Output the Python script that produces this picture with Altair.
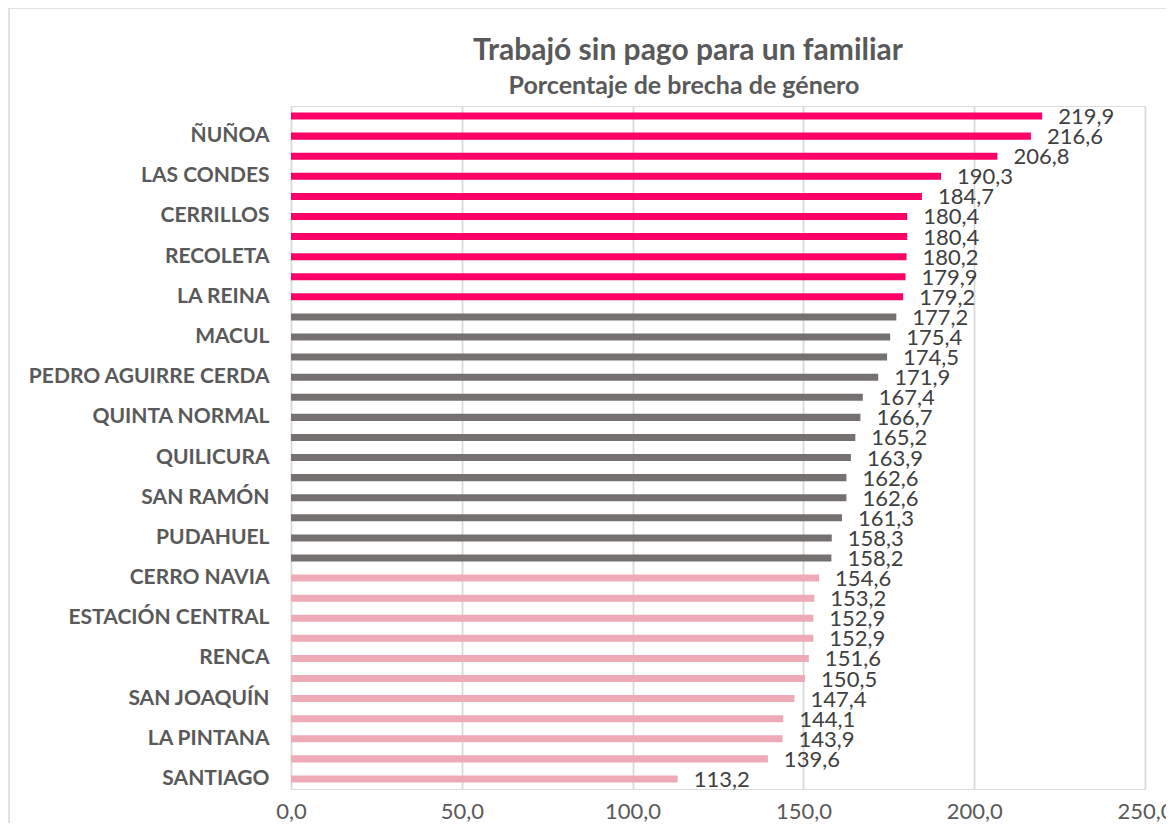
import altair as alt
import pandas as pd

comunas = [
    "CONCHALÍ", "ÑUÑOA", "EL BOSQUE", "LAS CONDES", "HUECHURABA", "CERRILLOS",
    "INDEPENDENCIA", "RECOLETA", "LA CISTERNA", "LA REINA", "LA FLORIDA", "MACUL",
    "LA GRANJA", "PEDRO AGUIRRE CERDA", "LO BARNECHEA", "QUINTA NORMAL", "LO ESPEJO",
    "QUILICURA", "LO PRADO", "SAN RAMÓN", "MAIPÚ", "PUDAHUEL", "PEÑALOLÉN",
    "CERRO NAVIA", "PROVIDENCIA", "ESTACIÓN CENTRAL", "SAN MIGUEL", "RENCA",
    "VITACURA", "SAN JOAQUÍN", "PUENTE ALTO", "LA PINTANA", "SAN BERNARDO", "SANTIAGO",
]
valores = [
    219.9, 216.6, 206.8, 190.3, 184.7, 180.4, 180.4, 180.2, 179.9, 179.2,
    177.2, 175.4, 174.5, 171.9, 167.4, 166.7, 165.2, 163.9, 162.6, 162.6,
    161.3, 158.3, 158.2,
    154.6, 153.2, 152.9, 152.9, 151.6, 150.5, 147.4, 144.1, 143.9, 139.6, 113.2,
]
grupos = ["alto"] * 10 + ["medio"] * 13 + ["bajo"] * 11
etiquetas_visibles = comunas[1::2]

grupo_dominio = ["alto", "medio", "bajo"]
grupo_colores = ["#FF0066", "#767171", "#EEABB7"]

titulo = "Trabajó sin pago para un familiar"
subtitulo = "Porcentaje de brecha de género"

df = pd.DataFrame({
    "comuna": comunas,
    "valor": valores,
    "grupo": grupos,
    "texto": [f"{v:.1f}".replace(".", ",") for v in valores],
})

FONT = "Lato"

y_enc = alt.Y(
    "comuna:N",
    sort=comunas,
    title=None,
    scale=alt.Scale(paddingInner=0.65, paddingOuter=0.325),
    axis=alt.Axis(
        values=etiquetas_visibles,
        ticks=False,
        domain=False,
        labelFont=FONT,
        labelFontSize=21,
        labelFontWeight="bold",
        labelColor="#595959",
        labelPadding=22,
        labelLimit=0,
        grid=False,
    ),
)

x_enc = alt.X(
    "valor:Q",
    title=None,
    scale=alt.Scale(domain=[0, 250], nice=False),
    axis=alt.Axis(
        values=[0, 50, 100, 150, 200, 250],
        labelExpr="replace(format(datum.value, '.1f'), '.', ',')",
        ticks=False,
        domain=False,
        grid=True,
        gridColor="#D9D9D9",
        gridWidth=1.8,
        labelFont=FONT,
        labelFontSize=22,
        labelColor="#595959",
        labelPadding=12,
        labelFlush=False,
    ),
)

barras = alt.Chart(df).mark_bar().encode(
    y=y_enc,
    x=x_enc,
    color=alt.Color(
        "grupo:N",
        scale=alt.Scale(domain=grupo_dominio, range=grupo_colores),
        legend=None,
    ),
)

textos = alt.Chart(df).mark_text(
    align="left", baseline="middle", dx=16, dy=1,
    font=FONT, fontSize=22, color="#404040",
).encode(
    y=alt.Y("comuna:N", sort=comunas),
    x=alt.X("valor:Q"),
    text="texto:N",
)

borde = alt.Chart(pd.DataFrame({"k": [0]})).mark_rect(
    fill=None, stroke="#D9D9D9", strokeWidth=1.5
).encode(
    x=alt.value(-282), x2=alt.value(900),
    y=alt.value(-98), y2=alt.value(740),
)

tit = alt.Chart(pd.DataFrame({"t": [titulo]})).mark_text(
    font=FONT, fontSize=30, fontWeight="bold", color="#595959",
    align="center", baseline="alphabetic",
).encode(x=alt.value(397), y=alt.value(-46), text="t:N")

sub = alt.Chart(pd.DataFrame({"t": [subtitulo]})).mark_text(
    font=FONT, fontSize=25, fontWeight="bold", color="#595959",
    align="center", baseline="alphabetic",
).encode(x=alt.value(393), y=alt.value(-12), text="t:N")

chart = alt.layer(borde, barras, textos, tit, sub).properties(
    width=854,
    height=683,
    autosize="none",
    padding={"left": 283, "top": 98, "right": 21, "bottom": 34},
).configure_view(stroke=None).configure(background="white")

chart.save("out.html", embed_options={"renderer": "svg", "actions": False})

# let the last tick label spill past the svg edge instead of being clipped
with open("out.html", encoding="utf-8") as fh:
    html = fh.read()
html = html.replace(
    "</head>",
    "<style>body{overflow:hidden} .vega-embed svg{overflow:visible}</style></head>",
    1,
)
with open("out.html", "w", encoding="utf-8") as fh:
    fh.write(html)
